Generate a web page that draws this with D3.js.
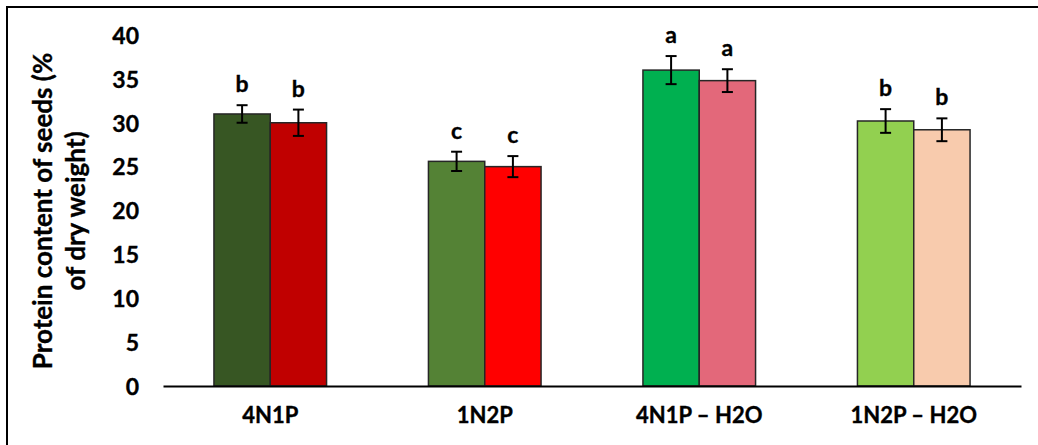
<!DOCTYPE html>
<html>
<head>
<meta charset="utf-8">
<script src="https://cdn.jsdelivr.net/npm/d3@7"></script>
<style>
  html, body { margin: 0; padding: 0; background: #fff; }
  svg { display: block; }
  text { font-family: Lato, "Open Sans", sans-serif; font-weight: bold; fill: #000; stroke: #000; stroke-width: 0.35px; }
</style>
</head>
<body>
<svg id="chart" width="1038" height="445"></svg>
<script>
// Treatments along the x axis
const categories = ["4N1P", "1N2P", "4N1P \u2013 H2O", "1N2P \u2013 H2O"];
// Two bars per treatment
const seriesKeys = ["s1", "s2"];
// Mean protein content (% of dry weight)
const valuesS1 = [31.0, 25.6, 36.0, 30.2];
const valuesS2 = [30.0, 25.0, 34.8, 29.2];
// Error (±)
const errorsS1 = [1.0, 1.1, 1.6, 1.35];
const errorsS2 = [1.5, 1.2, 1.3, 1.3];
// Significance letters
const lettersS1 = ["b", "c", "a", "b"];
const lettersS2 = ["b", "c", "a", "b"];
// Bar fills
const fillsS1 = ["#375623", "#548235", "#00B050", "#92D050"];
const fillsS2 = ["#C00000", "#FF0000", "#E3687A", "#F8CBAD"];
// Y axis ticks
const yTicks = [0, 5, 10, 15, 20, 25, 30, 35, 40];

const rows = [];
categories.forEach((c, i) => {
  rows.push({cat: c, key: "s1", value: valuesS1[i], err: errorsS1[i], letter: lettersS1[i], fill: fillsS1[i]});
  rows.push({cat: c, key: "s2", value: valuesS2[i], err: errorsS2[i], letter: lettersS2[i], fill: fillsS2[i]});
});

const svg = d3.select("#chart");

// Frame (left and top edges)
svg.append("path")
  .attr("d", "M7,445 L7,7 L1038,7")
  .attr("fill", "none")
  .attr("stroke", "#000")
  .attr("stroke-width", 2);

const x0 = d3.scaleBand()
  .domain(categories)
  .range([163, 1021])
  .paddingInner(0.475)
  .paddingOuter(0.2375);

const x1 = d3.scaleBand()
  .domain(seriesKeys)
  .range([0, x0.bandwidth()])
  .padding(0);

const y = d3.scaleLinear()
  .domain([0, 40])
  .range([386, 35]);

// Y axis tick labels (no axis line)
const yAxis = d3.axisLeft(y).tickValues(yTicks).tickSize(0).tickPadding(0);
const gy = svg.append("g").attr("transform", "translate(139,0)").call(yAxis);
gy.select(".domain").remove();
gy.selectAll("text")
  .attr("font-size", 23)
  .attr("font-family", "Lato, 'Open Sans', sans-serif")
  .attr("font-weight", "bold")
  .attr("fill", "#000")
  .attr("dy", "0.36em");

// Bars
svg.append("g").selectAll("rect")
  .data(rows)
  .join("rect")
  .attr("x", d => x0(d.cat) + x1(d.key))
  .attr("y", d => y(d.value))
  .attr("width", x1.bandwidth())
  .attr("height", d => y(0) - y(d.value))
  .attr("fill", d => d.fill)
  .attr("stroke", "#262626")
  .attr("stroke-width", 1.5);

// X axis baseline and category labels
const xAxis = d3.axisBottom(x0).tickSize(0).tickPadding(21);
const gx = svg.append("g").attr("transform", `translate(0,${y(0)})`).call(xAxis);
gx.select(".domain").attr("stroke", "#000").attr("stroke-width", 2);
gx.selectAll("text")
  .attr("font-size", 22)
  .attr("font-family", "Lato, 'Open Sans', sans-serif")
  .attr("font-weight", "bold")
  .attr("fill", "#000");

// Error bars
const eb = svg.append("g").selectAll("g")
  .data(rows)
  .join("g")
  .attr("stroke", "#000")
  .attr("stroke-width", 2);
const cx = d => x0(d.cat) + x1(d.key) + x1.bandwidth() / 2;
eb.append("line")
  .attr("x1", cx).attr("x2", cx)
  .attr("y1", d => y(d.value + d.err)).attr("y2", d => y(d.value - d.err));
eb.append("line")
  .attr("x1", d => cx(d) - 5.5).attr("x2", d => cx(d) + 5.5)
  .attr("y1", d => y(d.value + d.err)).attr("y2", d => y(d.value + d.err));
eb.append("line")
  .attr("x1", d => cx(d) - 5.5).attr("x2", d => cx(d) + 5.5)
  .attr("y1", d => y(d.value - d.err)).attr("y2", d => y(d.value - d.err));

// Significance letters
svg.append("g").selectAll("text")
  .data(rows)
  .join("text")
  .attr("x", cx)
  .attr("y", d => y(d.value + d.err) - 13)
  .attr("text-anchor", "middle")
  .attr("font-size", 23)
  .text(d => d.letter);

// Y axis title (two lines)
const title = svg.append("text")
  .attr("transform", "translate(0,211) rotate(-90)")
  .attr("text-anchor", "middle")
  .attr("font-size", 26);
title.append("tspan").attr("x", 0).attr("y", 52).text("Protein content of seeds (%");
title.append("tspan").attr("x", 0).attr("y", 85).text("of dry weight)");
</script>
</body>
</html>
